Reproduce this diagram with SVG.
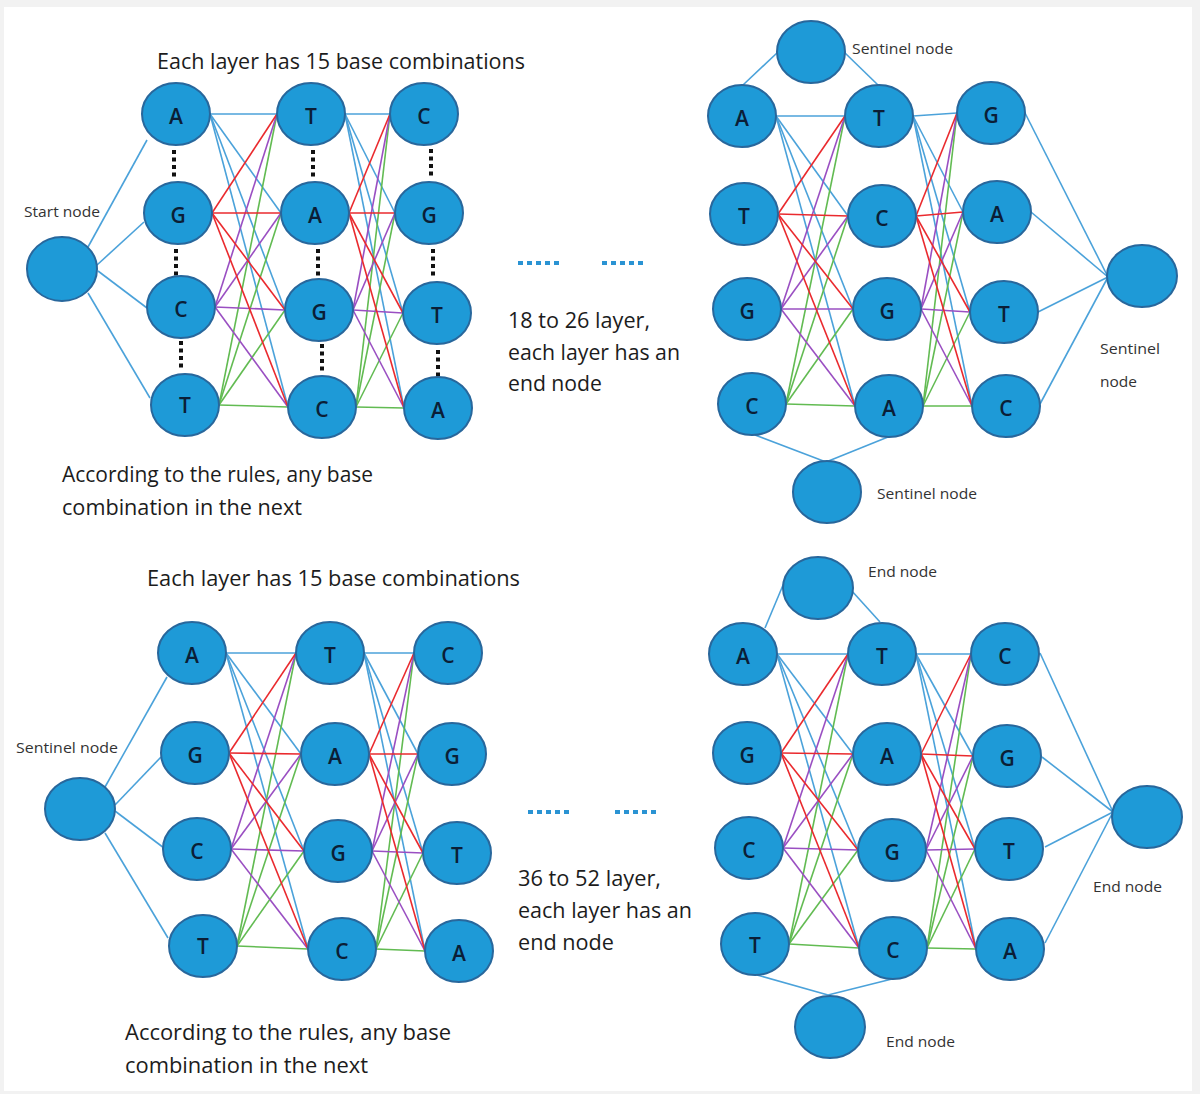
<svg xmlns="http://www.w3.org/2000/svg" width="1200" height="1094" viewBox="0 0 1200 1094">
<style>
.n{fill:#1e9ad7;stroke:#28679c;stroke-width:2}
.lt{font-family:"Open Sans","Noto Sans",sans-serif;font-size:21px;font-weight:600;fill:#0b1e36;text-anchor:middle;dominant-baseline:central}
.sl{font-family:"Open Sans","Noto Sans",sans-serif;font-size:15px;fill:#333}
.bt{font-family:"Open Sans","Noto Sans",sans-serif;font-size:21px;fill:#1c1c1c}
.b{stroke:#4ba2da;stroke-width:1.6;fill:none}
.r{stroke:#ea2a2e;stroke-width:1.6;fill:none}
.p{stroke:#9a4fc2;stroke-width:1.6;fill:none}
.g{stroke:#62bb52;stroke-width:1.6;fill:none}
.dots{stroke:#111;stroke-width:4;stroke-dasharray:4 3.5;fill:none}
.dash{stroke:#2a93d3;stroke-width:4;stroke-dasharray:5 4;fill:none}
</style>
<rect x="0" y="0" width="1200" height="1094" fill="#f2f2f2"/>
<rect x="4" y="7" width="1188" height="1084" fill="#ffffff"/>

<g id="connectors">
<!-- Top-left: start node -->
<line class="b" x1="88" y1="247" x2="147" y2="140"/>
<line class="b" x1="97" y1="265" x2="144" y2="222"/>
<line class="b" x1="98" y1="271" x2="147" y2="308"/>
<line class="b" x1="88" y1="293" x2="150" y2="398"/>
<!-- TL layer 1 -->
<line class="b" x1="210" y1="114" x2="277" y2="114"/><line class="b" x1="210" y1="114" x2="281" y2="213"/><line class="b" x1="210" y1="114" x2="285" y2="310"/><line class="b" x1="210" y1="114" x2="288" y2="407"/>
<line class="g" x1="219" y1="405" x2="277" y2="114"/><line class="g" x1="219" y1="405" x2="281" y2="213"/><line class="g" x1="219" y1="405" x2="285" y2="310"/><line class="g" x1="219" y1="405" x2="288" y2="407"/>
<line class="p" x1="215" y1="307" x2="277" y2="114"/><line class="p" x1="215" y1="307" x2="281" y2="213"/><line class="p" x1="215" y1="307" x2="285" y2="310"/><line class="p" x1="215" y1="307" x2="288" y2="407"/>
<line class="r" x1="212" y1="213" x2="277" y2="114"/><line class="r" x1="212" y1="213" x2="281" y2="213"/><line class="r" x1="212" y1="213" x2="285" y2="310"/><line class="r" x1="212" y1="213" x2="288" y2="407"/>
<!-- TL layer 2 -->
<line class="b" x1="345" y1="114" x2="390" y2="114"/><line class="b" x1="345" y1="114" x2="395" y2="213"/><line class="b" x1="345" y1="114" x2="403" y2="313"/><line class="b" x1="345" y1="114" x2="404" y2="408"/>
<line class="g" x1="356" y1="407" x2="390" y2="114"/><line class="g" x1="356" y1="407" x2="395" y2="213"/><line class="g" x1="356" y1="407" x2="403" y2="313"/><line class="g" x1="356" y1="407" x2="404" y2="408"/>
<line class="p" x1="353" y1="310" x2="390" y2="114"/><line class="p" x1="353" y1="310" x2="395" y2="213"/><line class="p" x1="353" y1="310" x2="403" y2="313"/><line class="p" x1="353" y1="310" x2="404" y2="408"/>
<line class="r" x1="349" y1="213" x2="390" y2="114"/><line class="r" x1="349" y1="213" x2="395" y2="213"/><line class="r" x1="349" y1="213" x2="403" y2="313"/><line class="r" x1="349" y1="213" x2="404" y2="408"/>

<!-- Top-right sentinels -->
<line class="b" x1="743" y1="85" x2="778" y2="52"/>
<line class="b" x1="844" y1="52" x2="878" y2="85"/>
<line class="b" x1="755" y1="435" x2="826" y2="462"/>
<line class="b" x1="826" y1="462" x2="888" y2="437"/>
<line class="b" x1="1025" y1="113" x2="1108" y2="277"/>
<line class="b" x1="1031" y1="212" x2="1108" y2="277"/>
<line class="b" x1="1038" y1="312" x2="1108" y2="277"/>
<line class="b" x1="1040" y1="404" x2="1108" y2="277"/>
<!-- TR layer 1 -->
<line class="b" x1="776" y1="116" x2="845" y2="116"/><line class="b" x1="776" y1="116" x2="848" y2="216"/><line class="b" x1="776" y1="116" x2="853" y2="309"/><line class="b" x1="776" y1="116" x2="855" y2="406"/>
<line class="g" x1="786" y1="404" x2="845" y2="116"/><line class="g" x1="786" y1="404" x2="848" y2="216"/><line class="g" x1="786" y1="404" x2="853" y2="309"/><line class="g" x1="786" y1="404" x2="855" y2="406"/>
<line class="p" x1="781" y1="309" x2="845" y2="116"/><line class="p" x1="781" y1="309" x2="848" y2="216"/><line class="p" x1="781" y1="309" x2="853" y2="309"/><line class="p" x1="781" y1="309" x2="855" y2="406"/>
<line class="r" x1="778" y1="214" x2="845" y2="116"/><line class="r" x1="778" y1="214" x2="848" y2="216"/><line class="r" x1="778" y1="214" x2="853" y2="309"/><line class="r" x1="778" y1="214" x2="855" y2="406"/>
<!-- TR layer 2 -->
<line class="b" x1="913" y1="116" x2="957" y2="113"/><line class="b" x1="913" y1="116" x2="963" y2="212"/><line class="b" x1="913" y1="116" x2="970" y2="312"/><line class="b" x1="913" y1="116" x2="972" y2="406"/>
<line class="g" x1="923" y1="406" x2="957" y2="113"/><line class="g" x1="923" y1="406" x2="963" y2="212"/><line class="g" x1="923" y1="406" x2="970" y2="312"/><line class="g" x1="923" y1="406" x2="972" y2="406"/>
<line class="p" x1="921" y1="309" x2="957" y2="113"/><line class="p" x1="921" y1="309" x2="963" y2="212"/><line class="p" x1="921" y1="309" x2="970" y2="312"/><line class="p" x1="921" y1="309" x2="972" y2="406"/>
<line class="r" x1="916" y1="216" x2="957" y2="113"/><line class="r" x1="916" y1="216" x2="963" y2="212"/><line class="r" x1="916" y1="216" x2="970" y2="312"/><line class="r" x1="916" y1="216" x2="972" y2="406"/>

<!-- Bottom-left sentinel -->
<line class="b" x1="105" y1="787" x2="167" y2="677"/>
<line class="b" x1="115" y1="805" x2="161" y2="757"/>
<line class="b" x1="115" y1="811" x2="164" y2="848"/>
<line class="b" x1="105" y1="833" x2="168" y2="938"/>
<!-- BL layer 1 -->
<line class="b" x1="226" y1="653" x2="296" y2="653"/><line class="b" x1="226" y1="653" x2="301" y2="754"/><line class="b" x1="226" y1="653" x2="304" y2="851"/><line class="b" x1="226" y1="653" x2="308" y2="949"/>
<line class="g" x1="237" y1="946" x2="296" y2="653"/><line class="g" x1="237" y1="946" x2="301" y2="754"/><line class="g" x1="237" y1="946" x2="304" y2="851"/><line class="g" x1="237" y1="946" x2="308" y2="949"/>
<line class="p" x1="231" y1="849" x2="296" y2="653"/><line class="p" x1="231" y1="849" x2="301" y2="754"/><line class="p" x1="231" y1="849" x2="304" y2="851"/><line class="p" x1="231" y1="849" x2="308" y2="949"/>
<line class="r" x1="229" y1="753" x2="296" y2="653"/><line class="r" x1="229" y1="753" x2="301" y2="754"/><line class="r" x1="229" y1="753" x2="304" y2="851"/><line class="r" x1="229" y1="753" x2="308" y2="949"/>
<!-- BL layer 2 -->
<line class="b" x1="364" y1="653" x2="414" y2="653"/><line class="b" x1="364" y1="653" x2="418" y2="754"/><line class="b" x1="364" y1="653" x2="423" y2="853"/><line class="b" x1="364" y1="653" x2="425" y2="951"/>
<line class="g" x1="376" y1="949" x2="414" y2="653"/><line class="g" x1="376" y1="949" x2="418" y2="754"/><line class="g" x1="376" y1="949" x2="423" y2="853"/><line class="g" x1="376" y1="949" x2="425" y2="951"/>
<line class="p" x1="372" y1="851" x2="414" y2="653"/><line class="p" x1="372" y1="851" x2="418" y2="754"/><line class="p" x1="372" y1="851" x2="423" y2="853"/><line class="p" x1="372" y1="851" x2="425" y2="951"/>
<line class="r" x1="369" y1="754" x2="414" y2="653"/><line class="r" x1="369" y1="754" x2="418" y2="754"/><line class="r" x1="369" y1="754" x2="423" y2="853"/><line class="r" x1="369" y1="754" x2="425" y2="951"/>

<!-- Bottom-right end nodes -->
<line class="b" x1="765" y1="628" x2="786" y2="578"/>
<line class="b" x1="851" y1="590" x2="880" y2="622"/>
<line class="b" x1="757" y1="975" x2="828" y2="995"/>
<line class="b" x1="828" y1="995" x2="892" y2="979"/>
<line class="b" x1="1040" y1="653" x2="1113" y2="812"/>
<line class="b" x1="1042" y1="757" x2="1113" y2="812"/>
<line class="b" x1="1045" y1="847" x2="1113" y2="812"/>
<line class="b" x1="1045" y1="943" x2="1113" y2="812"/>
<!-- BR layer 1 -->
<line class="b" x1="777" y1="654" x2="848" y2="654"/><line class="b" x1="777" y1="654" x2="853" y2="754"/><line class="b" x1="777" y1="654" x2="858" y2="850"/><line class="b" x1="777" y1="654" x2="859" y2="948"/>
<line class="g" x1="789" y1="944" x2="848" y2="654"/><line class="g" x1="789" y1="944" x2="853" y2="754"/><line class="g" x1="789" y1="944" x2="858" y2="850"/><line class="g" x1="789" y1="944" x2="859" y2="948"/>
<line class="p" x1="783" y1="848" x2="848" y2="654"/><line class="p" x1="783" y1="848" x2="853" y2="754"/><line class="p" x1="783" y1="848" x2="858" y2="850"/><line class="p" x1="783" y1="848" x2="859" y2="948"/>
<line class="r" x1="781" y1="753" x2="848" y2="654"/><line class="r" x1="781" y1="753" x2="853" y2="754"/><line class="r" x1="781" y1="753" x2="858" y2="850"/><line class="r" x1="781" y1="753" x2="859" y2="948"/>
<!-- BR layer 2 -->
<line class="b" x1="916" y1="654" x2="971" y2="654"/><line class="b" x1="916" y1="654" x2="973" y2="756"/><line class="b" x1="916" y1="654" x2="975" y2="849"/><line class="b" x1="916" y1="654" x2="976" y2="949"/>
<line class="g" x1="927" y1="948" x2="971" y2="654"/><line class="g" x1="927" y1="948" x2="973" y2="756"/><line class="g" x1="927" y1="948" x2="975" y2="849"/><line class="g" x1="927" y1="948" x2="976" y2="949"/>
<line class="p" x1="926" y1="850" x2="971" y2="654"/><line class="p" x1="926" y1="850" x2="973" y2="756"/><line class="p" x1="926" y1="850" x2="975" y2="849"/><line class="p" x1="926" y1="850" x2="976" y2="949"/>
<line class="r" x1="921" y1="754" x2="971" y2="654"/><line class="r" x1="921" y1="754" x2="973" y2="756"/><line class="r" x1="921" y1="754" x2="975" y2="849"/><line class="r" x1="921" y1="754" x2="976" y2="949"/>
</g>

<!-- ellipsis dots and dashes -->
<g id="ellipses">
<line class="dots" x1="174" y1="150" x2="174" y2="177"/>
<line class="dots" x1="176" y1="249" x2="176" y2="276"/>
<line class="dots" x1="181" y1="341" x2="181" y2="368"/>
<line class="dots" x1="313" y1="150" x2="313" y2="177"/>
<line class="dots" x1="318" y1="249" x2="318" y2="276"/>
<line class="dots" x1="322" y1="344" x2="322" y2="371"/>
<line class="dots" x1="431" y1="149" x2="431" y2="176"/>
<line class="dots" x1="433" y1="249" x2="433" y2="276"/>
<line class="dots" x1="438" y1="350" x2="438" y2="377"/>
<line class="dash" x1="518" y1="263" x2="563" y2="263"/>
<line class="dash" x1="602" y1="263" x2="647" y2="263"/>
<line class="dash" x1="528" y1="812" x2="573" y2="812"/>
<line class="dash" x1="615" y1="812" x2="660" y2="812"/>
</g>

<!-- Top-left network nodes -->
<g id="tl-start"><ellipse class="n" cx="62" cy="269" rx="35" ry="32"/></g>
<g id="tl-c1-A"><ellipse class="n" cx="176" cy="114" rx="34" ry="31"/><text class="lt" x="176" y="116">A</text></g>
<g id="tl-c1-G"><ellipse class="n" cx="178" cy="213" rx="34" ry="31"/><text class="lt" x="178" y="215">G</text></g>
<g id="tl-c1-C"><ellipse class="n" cx="181" cy="307" rx="34" ry="31"/><text class="lt" x="181" y="309">C</text></g>
<g id="tl-c1-T"><ellipse class="n" cx="185" cy="405" rx="34" ry="31"/><text class="lt" x="185" y="405">T</text></g>
<g id="tl-c2-T"><ellipse class="n" cx="311" cy="114" rx="34" ry="31"/><text class="lt" x="311" y="116">T</text></g>
<g id="tl-c2-A"><ellipse class="n" cx="315" cy="213" rx="34" ry="31"/><text class="lt" x="315" y="215">A</text></g>
<g id="tl-c2-G"><ellipse class="n" cx="319" cy="310" rx="34" ry="31"/><text class="lt" x="319" y="312">G</text></g>
<g id="tl-c2-C"><ellipse class="n" cx="322" cy="407" rx="34" ry="31"/><text class="lt" x="322" y="409">C</text></g>
<g id="tl-c3-C"><ellipse class="n" cx="424" cy="114" rx="34" ry="31"/><text class="lt" x="424" y="116">C</text></g>
<g id="tl-c3-G"><ellipse class="n" cx="429" cy="213" rx="34" ry="31"/><text class="lt" x="429" y="215">G</text></g>
<g id="tl-c3-T"><ellipse class="n" cx="437" cy="313" rx="34" ry="31"/><text class="lt" x="437" y="315">T</text></g>
<g id="tl-c3-A"><ellipse class="n" cx="438" cy="408" rx="34" ry="31"/><text class="lt" x="438" y="410">A</text></g>

<!-- Top-right network nodes -->
<g id="tr-sent-top"><ellipse class="n" cx="811" cy="52" rx="34" ry="31"/></g>
<g id="tr-sent-bottom"><ellipse class="n" cx="827" cy="492" rx="34" ry="31"/></g>
<g id="tr-sent-right"><ellipse class="n" cx="1142" cy="276" rx="35" ry="31"/></g>
<g id="tr-c1-A"><ellipse class="n" cx="742" cy="116" rx="34" ry="31"/><text class="lt" x="742" y="118">A</text></g>
<g id="tr-c1-T"><ellipse class="n" cx="744" cy="214" rx="34" ry="31"/><text class="lt" x="744" y="216">T</text></g>
<g id="tr-c1-G"><ellipse class="n" cx="747" cy="309" rx="34" ry="31"/><text class="lt" x="747" y="311">G</text></g>
<g id="tr-c1-C"><ellipse class="n" cx="752" cy="404" rx="34" ry="31"/><text class="lt" x="752" y="406">C</text></g>
<g id="tr-c2-T"><ellipse class="n" cx="879" cy="116" rx="34" ry="31"/><text class="lt" x="879" y="118">T</text></g>
<g id="tr-c2-C"><ellipse class="n" cx="882" cy="216" rx="34" ry="31"/><text class="lt" x="882" y="218">C</text></g>
<g id="tr-c2-G"><ellipse class="n" cx="887" cy="309" rx="34" ry="31"/><text class="lt" x="887" y="311">G</text></g>
<g id="tr-c2-A"><ellipse class="n" cx="889" cy="406" rx="34" ry="31"/><text class="lt" x="889" y="408">A</text></g>
<g id="tr-c3-G"><ellipse class="n" cx="991" cy="113" rx="34" ry="31"/><text class="lt" x="991" y="115">G</text></g>
<g id="tr-c3-A"><ellipse class="n" cx="997" cy="212" rx="34" ry="31"/><text class="lt" x="997" y="214">A</text></g>
<g id="tr-c3-T"><ellipse class="n" cx="1004" cy="312" rx="34" ry="31"/><text class="lt" x="1004" y="314">T</text></g>
<g id="tr-c3-C"><ellipse class="n" cx="1006" cy="406" rx="34" ry="31"/><text class="lt" x="1006" y="408">C</text></g>

<!-- Bottom-left network nodes -->
<g id="bl-sent"><ellipse class="n" cx="80" cy="809" rx="35" ry="31"/></g>
<g id="bl-c1-A"><ellipse class="n" cx="192" cy="653" rx="34" ry="31"/><text class="lt" x="192" y="655">A</text></g>
<g id="bl-c1-G"><ellipse class="n" cx="195" cy="753" rx="34" ry="31"/><text class="lt" x="195" y="755">G</text></g>
<g id="bl-c1-C"><ellipse class="n" cx="197" cy="849" rx="34" ry="31"/><text class="lt" x="197" y="851">C</text></g>
<g id="bl-c1-T"><ellipse class="n" cx="203" cy="946" rx="34" ry="31"/><text class="lt" x="203" y="946">T</text></g>
<g id="bl-c2-T"><ellipse class="n" cx="330" cy="653" rx="34" ry="31"/><text class="lt" x="330" y="655">T</text></g>
<g id="bl-c2-A"><ellipse class="n" cx="335" cy="754" rx="34" ry="31"/><text class="lt" x="335" y="756">A</text></g>
<g id="bl-c2-G"><ellipse class="n" cx="338" cy="851" rx="34" ry="31"/><text class="lt" x="338" y="853">G</text></g>
<g id="bl-c2-C"><ellipse class="n" cx="342" cy="949" rx="34" ry="31"/><text class="lt" x="342" y="951">C</text></g>
<g id="bl-c3-C"><ellipse class="n" cx="448" cy="653" rx="34" ry="31"/><text class="lt" x="448" y="655">C</text></g>
<g id="bl-c3-G"><ellipse class="n" cx="452" cy="754" rx="34" ry="31"/><text class="lt" x="452" y="756">G</text></g>
<g id="bl-c3-T"><ellipse class="n" cx="457" cy="853" rx="34" ry="31"/><text class="lt" x="457" y="855">T</text></g>
<g id="bl-c3-A"><ellipse class="n" cx="459" cy="951" rx="34" ry="31"/><text class="lt" x="459" y="953">A</text></g>

<!-- Bottom-right network nodes -->
<g id="br-end-top"><ellipse class="n" cx="818" cy="588" rx="35" ry="31"/></g>
<g id="br-end-bottom"><ellipse class="n" cx="830" cy="1027" rx="35" ry="31"/></g>
<g id="br-end-right"><ellipse class="n" cx="1147" cy="817" rx="35" ry="31"/></g>
<g id="br-c1-A"><ellipse class="n" cx="743" cy="654" rx="34" ry="31"/><text class="lt" x="743" y="656">A</text></g>
<g id="br-c1-G"><ellipse class="n" cx="747" cy="753" rx="34" ry="31"/><text class="lt" x="747" y="755">G</text></g>
<g id="br-c1-C"><ellipse class="n" cx="749" cy="848" rx="34" ry="31"/><text class="lt" x="749" y="850">C</text></g>
<g id="br-c1-T"><ellipse class="n" cx="755" cy="944" rx="34" ry="31"/><text class="lt" x="755" y="945">T</text></g>
<g id="br-c2-T"><ellipse class="n" cx="882" cy="654" rx="34" ry="31"/><text class="lt" x="882" y="656">T</text></g>
<g id="br-c2-A"><ellipse class="n" cx="887" cy="754" rx="34" ry="31"/><text class="lt" x="887" y="756">A</text></g>
<g id="br-c2-G"><ellipse class="n" cx="892" cy="850" rx="34" ry="31"/><text class="lt" x="892" y="852">G</text></g>
<g id="br-c2-C"><ellipse class="n" cx="893" cy="948" rx="34" ry="31"/><text class="lt" x="893" y="950">C</text></g>
<g id="br-c3-C"><ellipse class="n" cx="1005" cy="654" rx="34" ry="31"/><text class="lt" x="1005" y="656">C</text></g>
<g id="br-c3-G"><ellipse class="n" cx="1007" cy="756" rx="34" ry="31"/><text class="lt" x="1007" y="758">G</text></g>
<g id="br-c3-T"><ellipse class="n" cx="1009" cy="849" rx="34" ry="31"/><text class="lt" x="1009" y="851">T</text></g>
<g id="br-c3-A"><ellipse class="n" cx="1010" cy="949" rx="34" ry="31"/><text class="lt" x="1010" y="951">A</text></g>

<!-- Labels -->
<g id="labels">
<text class="sl" x="24" y="217" textLength="76" lengthAdjust="spacingAndGlyphs">Start node</text>
<text class="sl" x="852" y="54" textLength="101" lengthAdjust="spacingAndGlyphs">Sentinel node</text>
<text class="sl" x="1100" y="354" textLength="60" lengthAdjust="spacingAndGlyphs">Sentinel</text>
<text class="sl" x="1100" y="387" textLength="37" lengthAdjust="spacingAndGlyphs">node</text>
<text class="sl" x="877" y="499" textLength="100" lengthAdjust="spacingAndGlyphs">Sentinel node</text>
<text class="sl" x="16" y="753" textLength="102" lengthAdjust="spacingAndGlyphs">Sentinel node</text>
<text class="sl" x="868" y="577" textLength="69" lengthAdjust="spacingAndGlyphs">End node</text>
<text class="sl" x="1093" y="892" textLength="69" lengthAdjust="spacingAndGlyphs">End node</text>
<text class="sl" x="886" y="1047" textLength="69" lengthAdjust="spacingAndGlyphs">End node</text>

<text class="bt" x="157" y="69" textLength="368" lengthAdjust="spacingAndGlyphs">Each layer has 15 base combinations</text>
<text class="bt" x="508" y="328" textLength="142" lengthAdjust="spacingAndGlyphs">18 to 26 layer,</text>
<text class="bt" x="508" y="360" textLength="172" lengthAdjust="spacingAndGlyphs">each layer has an</text>
<text class="bt" x="508" y="391" textLength="94" lengthAdjust="spacingAndGlyphs">end node</text>
<text class="bt" x="62" y="482" textLength="311" lengthAdjust="spacingAndGlyphs">According to the rules, any base</text>
<text class="bt" x="62" y="515" textLength="240" lengthAdjust="spacingAndGlyphs">combination in the next</text>

<text class="bt" x="147" y="586" textLength="373" lengthAdjust="spacingAndGlyphs">Each layer has 15 base combinations</text>
<text class="bt" x="518" y="886" textLength="143" lengthAdjust="spacingAndGlyphs">36 to 52 layer,</text>
<text class="bt" x="518" y="918" textLength="174" lengthAdjust="spacingAndGlyphs">each layer has an</text>
<text class="bt" x="518" y="950" textLength="96" lengthAdjust="spacingAndGlyphs">end node</text>
<text class="bt" x="125" y="1040" textLength="326" lengthAdjust="spacingAndGlyphs">According to the rules, any base</text>
<text class="bt" x="125" y="1073" textLength="243" lengthAdjust="spacingAndGlyphs">combination in the next</text>
</g>
</svg>
